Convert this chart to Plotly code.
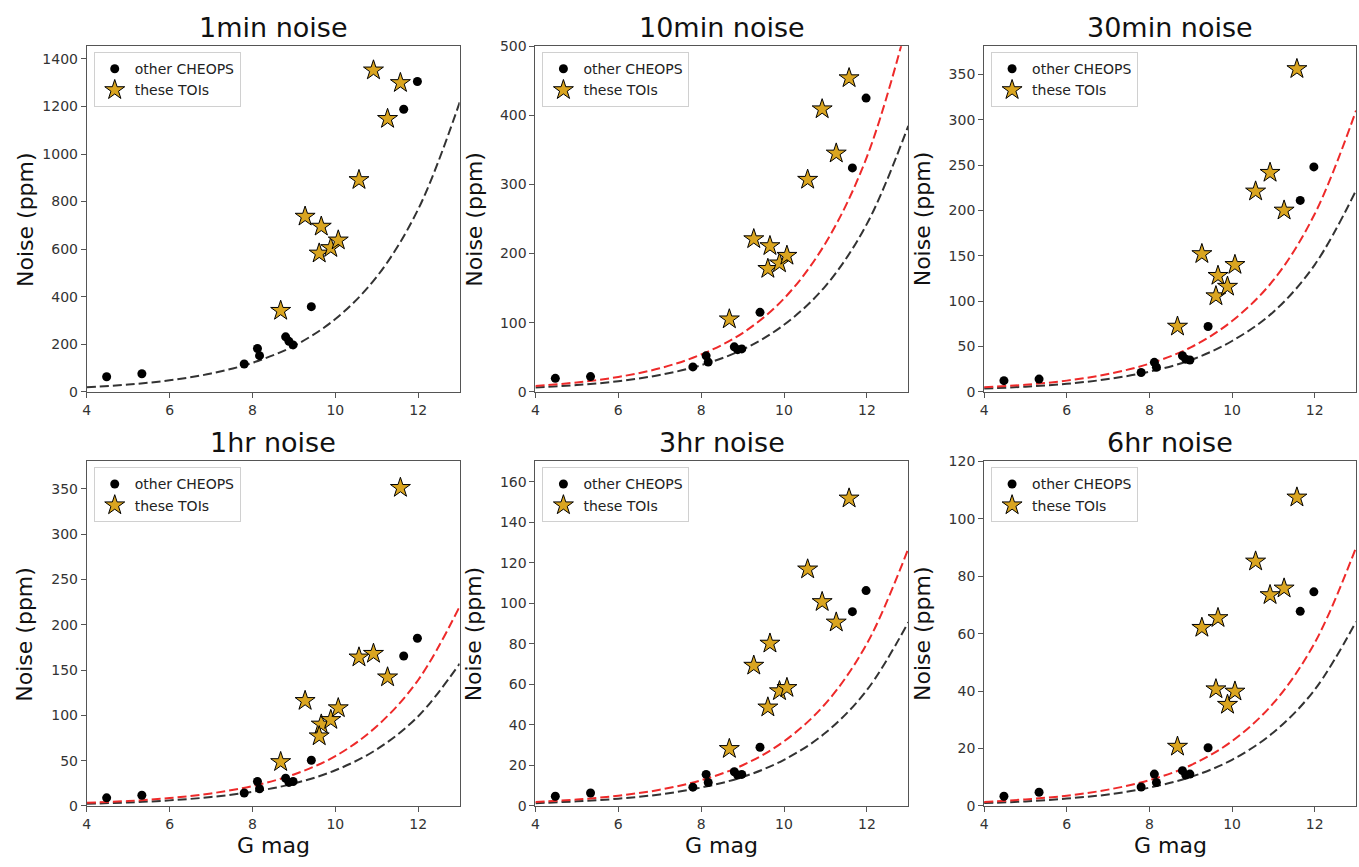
import plotly.graph_objects as go

# ---------------- data ----------------
titles = ["1min noise", "10min noise", "30min noise", "1hr noise", "3hr noise", "6hr noise"]

# G magnitudes
mag_other = [4.48, 5.33, 7.80, 8.12, 8.17, 8.80, 8.88, 8.98, 9.42, 11.65, 11.98]
mag_toi = [8.68, 9.27, 9.66, 9.61, 9.89, 10.07, 10.57, 10.92, 11.26, 11.57]
mag_curve = [4, 5, 6, 7, 8, 9, 10, 11, 12, 13]

# other CHEOPS targets (ppm)
other_1min = [63, 76, 117, 182, 152, 231, 212, 197, 358, 1188, 1305]
other_10min = [19.5, 22, 36, 52, 43, 65, 61, 62, 115, 324, 425]
other_30min = [12.3, 14, 21.3, 32.5, 27, 39.7, 36, 35, 72, 211, 248]
other_1hr = [9, 11.9, 14.4, 27, 19, 30.6, 26, 27, 50.4, 165.5, 185]
other_3hr = [4.8, 6.4, 9.3, 15.6, 11.6, 16.9, 15.3, 15.6, 29, 95.9, 106.3]
other_6hr = [3.4, 4.8, 6.6, 11.1, 8.2, 12.3, 10.8, 11.1, 20.3, 67.8, 74.6]

# these TOIs (ppm)
toi_1min = [341, 737, 695, 582, 605, 637, 891, 1352, 1148, 1299]
toi_10min = [105, 221, 211, 178, 186, 197, 307, 409, 345, 454]
toi_30min = [72, 152, 128, 105.5, 116, 140, 221, 241.6, 200, 356]
toi_1hr = [48.6, 116, 90, 77, 95, 108, 164, 168, 142, 351]
toi_3hr = [28.2, 69.3, 80.2, 48.7, 56.7, 58.3, 116.8, 100.7, 90.6, 151.8]
toi_6hr = [20.7, 62.1, 65.5, 40.7, 35.3, 39.9, 85.2, 73.5, 75.8, 107.5]

# dashed model curves (ppm) at mag_curve
black_1min = [19.3, 30.5, 48.4, 76.8, 122, 193, 306, 484, 768, 1217]
black_10min = [6.1, 9.7, 15.3, 24.3, 38.5, 61, 97, 153, 243, 385]
red_10min = [8.5, 13.5, 21.5, 34, 54, 85, 135, 215, 340, 539]
black_30min = [3.5, 5.6, 8.8, 14.0, 22.2, 35, 56, 88, 140, 222]
red_30min = [4.9, 7.8, 12.3, 19.6, 31, 49, 78, 123, 196, 310]
black_1hr = [2.5, 3.9, 6.2, 9.9, 15.7, 24.8, 39.4, 62.5, 99, 157]
red_1hr = [3.5, 5.5, 8.8, 13.9, 22, 34.8, 55, 88, 139, 220]
black_3hr = [1.4, 2.3, 3.6, 5.7, 9.1, 14.3, 22.8, 36.1, 57.2, 90.7]
red_3hr = [2.0, 3.2, 5.1, 8.0, 12.7, 20.1, 31.9, 50.5, 80.1, 127]
black_6hr = [1.0, 1.6, 2.6, 4.0, 6.4, 10.1, 16.1, 25.6, 40.5, 64.2]
red_6hr = [1.4, 2.3, 3.6, 5.7, 9.0, 14.2, 22.6, 35.8, 56.8, 90]

others = [other_1min, other_10min, other_30min, other_1hr, other_3hr, other_6hr]
tois = [toi_1min, toi_10min, toi_30min, toi_1hr, toi_3hr, toi_6hr]
blacks = [black_1min, black_10min, black_30min, black_1hr, black_3hr, black_6hr]
reds = [None, red_10min, red_30min, red_1hr, red_3hr, red_6hr]

y_max = [1453, 500, 381, 380, 170, 120]
y_tick_step = [200, 100, 50, 50, 20, 20]
y_tick_top = [1400, 500, 350, 350, 160, 120]
x_ticks = [4, 6, 8, 10, 12]

# ---------------- layout geometry (pixels) ----------------
W, H = 1359, 867
col_px = [(83, 457), (533, 907), (983, 1356)]
row_px = [(39, 391), (462, 813)]

fig = go.Figure()
annotations = []
layout = dict(
    width=W, height=H,
    margin=dict(l=0, r=0, t=0, b=0),
    paper_bgcolor="white", plot_bgcolor="white",
    font=dict(family="DejaVu Sans", color="#333"),
)

for i in range(6):
    r, c = divmod(i, 3)
    x0, x1 = col_px[c]
    yt, yb = row_px[r]
    n = "" if i == 0 else str(i + 1)
    xa, ya = "x" + n, "y" + n
    leg = "legend" + n

    axis_common = dict(
        showgrid=False, zeroline=False, showline=True, mirror=True,
        linecolor="#555", linewidth=1, ticks="outside", ticklen=5,
        tickcolor="#555", tickfont=dict(size=14, color="#333"),
    )
    layout["xaxis" + n] = dict(
        axis_common, domain=[x0 / W, x1 / W], anchor=ya,
        range=[4, 13], tickvals=x_ticks,
    )
    layout["yaxis" + n] = dict(
        axis_common, domain=[1 - yb / H, 1 - yt / H], anchor=xa,
        range=[0, y_max[i]],
        tickvals=list(range(0, y_tick_top[i] + 1, y_tick_step[i])),
    )
    layout[leg] = dict(
        x=(x0 + 7) / W, y=1 - (yt + 6) / H, xanchor="left", yanchor="top",
        bgcolor="rgba(255,255,255,0.85)", bordercolor="#d0d0d0", borderwidth=1,
        font=dict(size=14, color="#222"), tracegroupgap=0,
    )

    # curves
    fig.add_trace(go.Scatter(
        x=mag_curve, y=blacks[i], mode="lines", xaxis=xa, yaxis=ya,
        line=dict(color="#333333", width=2, dash="9px,4px", shape="spline"),
        showlegend=False, hoverinfo="skip",
    ))
    if reds[i] is not None:
        fig.add_trace(go.Scatter(
            x=mag_curve, y=reds[i], mode="lines", xaxis=xa, yaxis=ya,
            line=dict(color="#ee2a2a", width=2, dash="9px,4px", shape="spline"),
            showlegend=False, hoverinfo="skip",
        ))
    # points
    fig.add_trace(go.Scatter(
        x=mag_other, y=others[i], mode="markers", xaxis=xa, yaxis=ya,
        name="other CHEOPS", legend=leg,
        marker=dict(color="black", size=9, line=dict(width=0)),
    ))
    fig.add_trace(go.Scatter(
        x=mag_toi, y=tois[i], mode="markers", xaxis=xa, yaxis=ya,
        name="these TOIs", legend=leg,
        marker=dict(symbol="star", color="#DAA520", size=15,
                    line=dict(color="black", width=1)),
    ))

    # title
    annotations.append(dict(
        text=titles[i], x=(x0 + x1) / 2 / W, y=1 - (yt - 19) / H,
        xref="paper", yref="paper", showarrow=False,
        xanchor="center", yanchor="middle",
        font=dict(size=27, color="#111"),
    ))
    # y label
    annotations.append(dict(
        text="Noise (ppm)", x=(x0 - 62) / W, y=1 - (yt + yb) / 2 / H,
        xref="paper", yref="paper", showarrow=False, textangle=-90,
        xanchor="center", yanchor="middle",
        font=dict(size=22, color="#111"),
    ))
    if r == 1:
        annotations.append(dict(
            text="G mag", x=(x0 + x1) / 2 / W, y=1 - 853 / H,
            xref="paper", yref="paper", showarrow=False,
            xanchor="center", yanchor="middle",
            font=dict(size=22, color="#111"),
        ))

layout["annotations"] = annotations
fig.update_layout(**layout)
fig.write_html("out.html")
